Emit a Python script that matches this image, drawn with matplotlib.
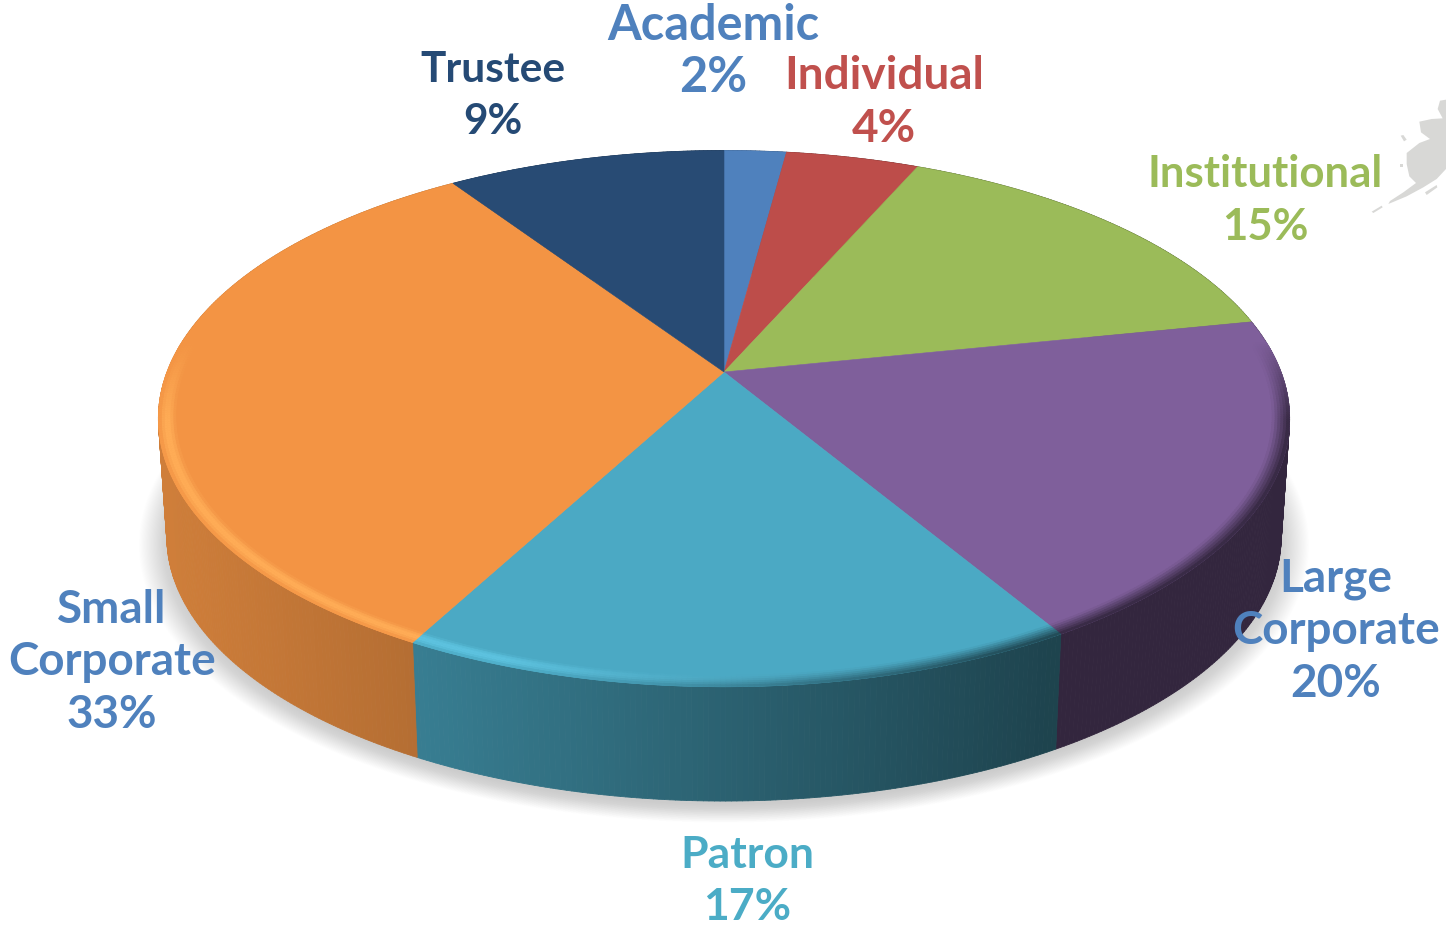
import numpy as np
import matplotlib
matplotlib.use('Agg')
import matplotlib.pyplot as plt
from matplotlib.collections import PolyCollection
from matplotlib.patches import Polygon

plt.rcParams['font.family'] = ['Lato', 'DejaVu Sans']

# Data, clockwise from 12 o'clock
names = ['Academic', 'Individual', 'Institutional', 'Large\nCorporate', 'Patron', 'Small\nCorporate', 'Trustee']
percent_labels = ['2%', '4%', '15%', '20%', '17%', '33%', '9%']
slice_shares = [2.1, 4.5, 15.2, 19.6, 16.45, 32.75, 9.4]
top_colors = ['#4F81BD', '#BD4D4A', '#9BBB59', '#7F5F9B', '#4BA9C4', '#F39444', '#284B74']
label_colors = ['#4F81BD', '#C0504D', '#9BBB59', '#4F81BD', '#4BACC6', '#4F81BD', '#254A75']
label_xy = [(713, 25), (884, 76), (1265, 174), (1336, 579), (747, 855), (112, 610), (493, 70)]
label_sizes = [35, 33, 31.5, 33, 32, 33, 30.5]

# Perspective of the disc on the page
CX, CY = 724, 373
RX, RY = 557, 260
PERSP = 0.174
DEPTH = 119


def disc(theta, r=1.0, dy=0.0, scale=1.0):
    u = r * np.sin(theta)
    v = r * np.cos(theta)
    d = 1 + PERSP * v
    return CX + scale * RX * u / d, CY + dy - scale * RY * v / d


def rgb(c):
    return np.array(matplotlib.colors.to_rgb(c))


def wall_shade(x):
    return np.interp(x, [170, 420, 1050, 1290], [0.85, 0.74, 0.40, 0.40])


fig = plt.figure(figsize=(14.46, 9.28), dpi=100)
ax = fig.add_axes([0, 0, 1, 1])
ax.set_xlim(0, 1446)
ax.set_ylim(928, 0)
ax.axis('off')

edges = np.cumsum([0] + slice_shares) / sum(slice_shares) * 2 * np.pi

# Soft shadow under the pie
full = np.linspace(0, 2 * np.pi, 361)
for s in np.linspace(1.05, 0.99, 30):
    x, y = disc(full, dy=DEPTH + 6, scale=s * 0.985)
    ax.add_patch(Polygon(np.c_[x, y], fc='#808080', ec='none', alpha=0.012, zorder=1))

# Side wall, in thin strips so that the shading follows the curve
for i, col in enumerate(top_colors):
    t = np.linspace(edges[i], edges[i + 1], max(3, int((edges[i + 1] - edges[i]) * 120)))
    polys, cols = [], []
    for a, b in zip(t[:-1], t[1:]):
        x1, y1 = disc(a)
        x2, y2 = disc(b)
        x3, y3 = disc(b, dy=DEPTH, scale=0.985)
        x4, y4 = disc(a, dy=DEPTH, scale=0.985)
        polys.append([(x1, y1), (x2, y2), (x3, y3), (x4, y4)])
        cols.append(rgb(col) * wall_shade((x1 + x2) / 2))
    ax.add_collection(PolyCollection(polys, facecolors=cols, edgecolors=cols, linewidths=0.6, zorder=2))

# Top of each slice
for i, col in enumerate(top_colors):
    t = np.linspace(edges[i], edges[i + 1], 200)
    x, y = disc(t)
    ax.add_patch(Polygon(np.r_[[[CX, CY]], np.c_[x, y]], fc=col, ec=col, lw=0.4, zorder=3))

# Bevel along the front rim: light on the left, dark on the right, none at the back
radii = np.linspace(0.97, 1.0, 7)
for i, col in enumerate(top_colors):
    t = np.linspace(edges[i], edges[i + 1], max(3, int((edges[i + 1] - edges[i]) * 120)))
    polys, cols = [], []
    for r0, r1 in zip(radii[:-1], radii[1:]):
        mid = ((r0 + r1) / 2 - 0.97) / 0.03
        w = np.sin(np.pi * mid)
        for a, b in zip(t[:-1], t[1:]):
            front = np.clip((0.12 - np.cos((a + b) / 2)) / 0.3, 0, 1)
            if front <= 0:
                continue
            x1, y1 = disc(a, r0)
            x2, y2 = disc(b, r0)
            x3, y3 = disc(b, r1)
            x4, y4 = disc(a, r1)
            xm = (x1 + x2) / 2
            light = np.interp(xm, [160, 500, 800, 1000], [1, 1, 0.3, 0])
            top = rgb(col)
            lit = np.clip(top * 1.08 + 0.05, 0, 1)
            dark = top * wall_shade(xm)
            c = top + (lit - top) * w * light * front
            c = c + (dark - c) * (1 - light) * mid * front
            polys.append([(x1, y1), (x2, y2), (x3, y3), (x4, y4)])
            cols.append(c)
    if polys:
        ax.add_collection(PolyCollection(polys, facecolors=cols, edgecolors=cols, linewidths=0.5, zorder=4))

# Labels: name and percentage, one line each
for name, pct, col, size, (lx, ly) in zip(names, percent_labels, label_colors, label_sizes, label_xy):
    lines = name.split('\n') + [pct]
    for k, line in enumerate(lines):
        ax.text(lx, ly + k * 52.5, line, color=col, fontsize=size, fontweight='bold',
                ha='center', va='center', zorder=6)

# Grey map fragment in the top right corner
alaska = [(300, 35), (318, 32), (318, 240), (290, 270), (250, 295), (200, 322), (145, 345), (150, 336),
          (190, 310), (228, 282), (208, 262), (200, 225), (200, 192), (238, 162), (270, 150), (243, 130),
          (238, 98), (275, 90), (308, 88), (293, 60)]
islets = [[(182, 140), (190, 138), (200, 152), (192, 157)],
          [(180, 225), (190, 225), (190, 233), (180, 233)],
          [(255, 310), (290, 288), (292, 295), (260, 318)],
          [(95, 368), (125, 350), (128, 355), (100, 372)]]
for shape in [alaska] + islets:
    pts = [(1340 + px / 3, 90 + py / 3) for px, py in shape]
    ax.add_patch(Polygon(pts, fc='#D8D8D6', ec='none', zorder=1))

fig.savefig('out.png', dpi=100, facecolor='white')
